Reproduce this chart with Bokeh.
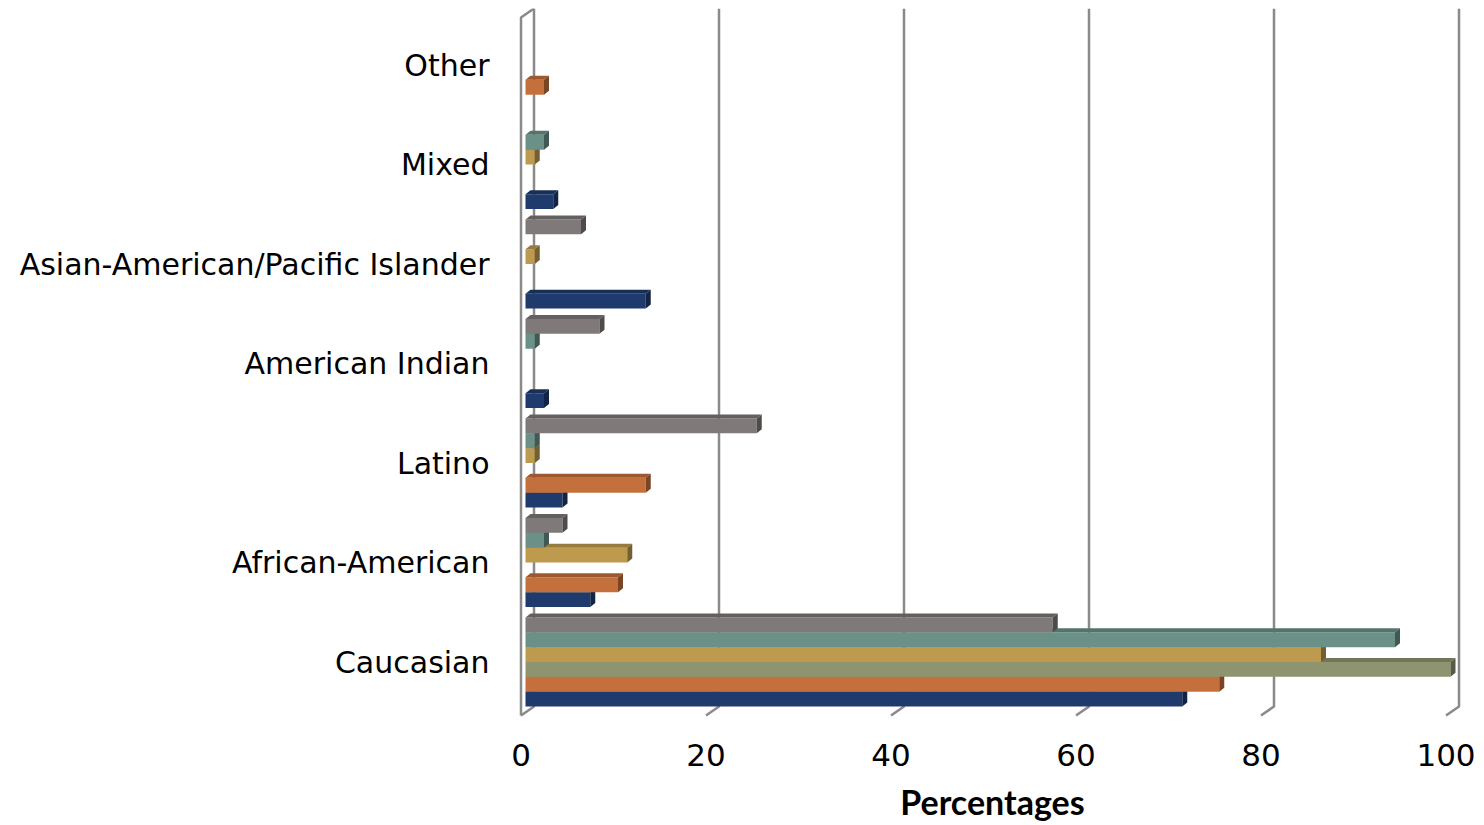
from bokeh.plotting import figure
from bokeh.models import Range1d, FixedTicker
from bokeh.embed import file_html
from bokeh.resources import INLINE

# ---------------- data ----------------
categories = ["Caucasian", "African-American", "Latino", "American Indian",
              "Asian-American/Pacific Islander", "Mixed", "Other"]
series_blue = [71, 7, 4, 2, 13, 3, 0]
series_orange = [75, 10, 13, 0, 0, 0, 2]
series_olive = [100, 0, 0, 0, 0, 0, 0]
series_gold = [86, 11, 1, 0, 1, 1, 0]
series_teal = [94, 2, 1, 1, 0, 2, 0]
series_gray = [57, 4, 25, 8, 6, 0, 0]
x_ticks = [0, 20, 40, 60, 80, 100]

series = [series_blue, series_orange, series_olive, series_gold, series_teal, series_gray]
colors = ["#1F3B6E", "#C4703C", "#8E9470", "#BD9A4E", "#6A9088", "#7F7979"]

# ---------------- geometry ----------------
PX_X = 9.25      # pixels per percent
PX_Y = 99.5      # pixels per category
FRAME_W, FRAME_H = 968, 709
X_START = -12.5 / PX_X
Y_START = -55.5 / PX_Y
X_END = X_START + FRAME_W / PX_X
Y_END = Y_START + FRAME_H / PX_Y

BAR_H = 14.85 / PX_Y
GROUP = BAR_H * len(series)
BAR_SHIFT = 4.5 / PX_X
DDX, DDY = 5 / PX_X, 4 / PX_Y
WALL_DX, WALL_DY = 13 / PX_X, 9 / PX_Y
FLOOR_Y = -53.5 / PX_Y

FONT = "DejaVu Sans"


def shade(hex_color, f):
    h = hex_color.lstrip("#")
    r, g, b = (int(h[i:i + 2], 16) for i in (0, 2, 4))
    return "#%02x%02x%02x" % (int(r * f), int(g * f), int(b * f))


p = figure(frame_width=FRAME_W, frame_height=FRAME_H,
           x_range=Range1d(X_START, X_END), y_range=Range1d(Y_START, Y_END),
           output_backend="svg", toolbar_location=None,
           min_border_left=508, min_border_right=0, min_border_top=8, min_border_bottom=60)
p.outline_line_color = None
p.xgrid.visible = False
p.ygrid.visible = False
p.background_fill_color = "white"
p.border_fill_color = "white"

# ---------- walls / gridlines ----------
wall_xs, wall_ys = [], []
for t in x_ticks:
    wall_xs.append([t + WALL_DX, t + WALL_DX, t])
    wall_ys.append([Y_END, FLOOR_Y + WALL_DY, FLOOR_Y])
wall_xs.append([0, 0, WALL_DX])
wall_ys.append([FLOOR_Y, Y_END - WALL_DY, Y_END])
p.multi_line(wall_xs, wall_ys, line_color="#8a8a8a", line_width=2.5)

# ---------- 3D bars ----------
for k, vals in enumerate(series):
    col = colors[k]
    ys, rights = [], []
    top_xs, top_ys, side_xs, side_ys = [], [], [], []
    for i, v in enumerate(vals):
        if v <= 0:
            continue
        yb = i - GROUP / 2 + k * BAR_H
        yt = yb + BAR_H
        x0 = BAR_SHIFT
        x1 = BAR_SHIFT + v
        ys.append((yb + yt) / 2)
        rights.append(x1)
        top_xs.append([x0, x1, x1 + DDX, x0 + DDX])
        top_ys.append([yt, yt, yt + DDY, yt + DDY])
        side_xs.append([x1, x1 + DDX, x1 + DDX, x1])
        side_ys.append([yb, yb + DDY, yt + DDY, yt])
    p.hbar(y=ys, left=BAR_SHIFT, right=rights, height=BAR_H,
           fill_color=col, line_color=None)
    p.patches(top_xs, top_ys, fill_color=shade(col, 0.8), line_color=None)
    p.patches(side_xs, side_ys, fill_color=shade(col, 0.62), line_color=None)

# ---------- axes ----------
xa = p.xaxis[0]
xa.ticker = FixedTicker(ticks=x_ticks)
xa.axis_line_color = None
xa.major_tick_line_color = None
xa.minor_tick_line_color = None
xa.major_tick_out = 0
xa.major_tick_in = 0
xa.major_label_standoff = 26
xa.major_label_text_font = FONT
xa.major_label_text_font_size = "31px"
xa.major_label_text_color = "black"
xa.axis_label = "Percentages"
xa.axis_label_text_font = "Lato"
xa.axis_label_text_font_style = "bold"
xa.axis_label_text_font_size = "34px"
xa.axis_label_text_color = "black"
xa.axis_label_standoff = 12

ya = p.yaxis[0]
ya.ticker = FixedTicker(ticks=list(range(len(categories))))
ya.major_label_overrides = {i: c for i, c in enumerate(categories)}
ya.axis_line_color = None
ya.major_tick_line_color = None
ya.minor_tick_line_color = None
ya.major_tick_out = 0
ya.major_tick_in = 0
ya.major_label_standoff = 19
ya.major_label_text_font = FONT
ya.major_label_text_font_size = "30px"
ya.major_label_text_color = "black"

open("out.html", "w").write(file_html(p, INLINE))
